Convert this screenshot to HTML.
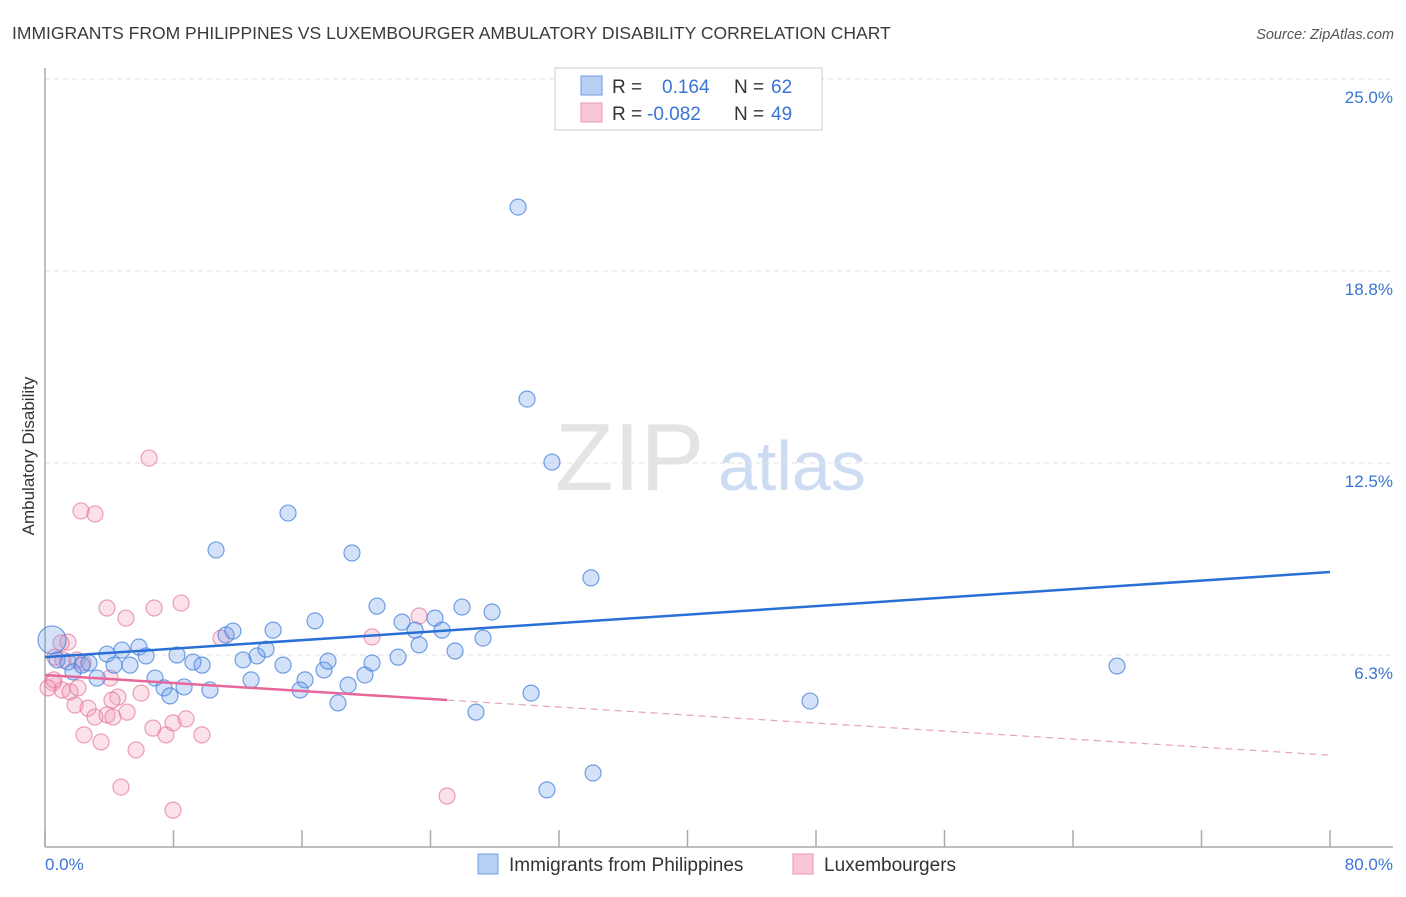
<!DOCTYPE html>
<html><head><meta charset="utf-8"><style>
body{margin:0;background:#fff;font-family:"Liberation Sans",sans-serif;}
svg text{font-family:"Liberation Sans",sans-serif;}
</style></head><body>
<svg id="chart" width="1406" height="892" viewBox="0 0 1406 892" xmlns="http://www.w3.org/2000/svg">
<text x="12" y="39" font-size="17.5" fill="#3a3a3a">IMMIGRANTS FROM PHILIPPINES VS LUXEMBOURGER AMBULATORY DISABILITY CORRELATION CHART</text>
<text x="1394" y="39" font-size="14.5" fill="#555" font-style="italic" text-anchor="end">Source: ZipAtlas.com</text>
<g>
<text x="555" y="490" font-size="96" fill="#d9d9d9" font-family="Liberation Serif, serif" opacity="0.7">ZIP</text>
<text x="718" y="490" font-size="70" fill="#b8cdee" opacity="0.7">atlas</text>
</g>
<g id="grid"></g>
<g id="axes"></g>
<g id="pts"></g>
<g id="trend"></g>
<text transform="translate(34,456) rotate(-90)" font-size="17" fill="#333" text-anchor="middle">Ambulatory Disability</text>
<text x="45" y="870" font-size="17" fill="#3a74d4">0.0%</text>
<text x="1393" y="870" font-size="17" fill="#3a74d4" text-anchor="end">80.0%</text>
<g>
<rect x="555" y="68" width="267" height="62" fill="#fff" stroke="#ccc"/>
<rect x="581" y="76" width="21" height="19" fill="#b7d0f3" stroke="#6f9be0"/>
<rect x="581" y="103" width="21" height="19" fill="#f9c6d5" stroke="#ea98b1"/>
<text x="612" y="93" font-size="19" fill="#333">R =</text>
<text x="662" y="93" font-size="19" fill="#3a74d4">0.164</text>
<text x="734" y="93" font-size="19" fill="#333">N =</text>
<text x="771" y="93" font-size="19" fill="#3a74d4">62</text>
<text x="612" y="120" font-size="19" fill="#333">R =</text>
<text x="647" y="120" font-size="19" fill="#3a74d4">-0.082</text>
<text x="734" y="120" font-size="19" fill="#333">N =</text>
<text x="771" y="120" font-size="19" fill="#3a74d4">49</text>
</g>
<g>
<rect x="478" y="854" width="20" height="20" fill="#b7d0f3" stroke="#6f9be0"/>
<text x="509" y="871" font-size="19" fill="#333">Immigrants from Philippines</text>
<rect x="793" y="854" width="20" height="20" fill="#f9c6d5" stroke="#ea98b1"/>
<text x="824" y="871" font-size="19" fill="#333">Luxembourgers</text>
</g>
</svg>
<script>
const blueX=[0.44,0.75,1.43,1.74,2.30,2.74,3.24,3.86,4.30,4.79,5.29,5.85,6.29,6.85,7.41,7.78,8.22,8.66,9.21,9.78,10.27,10.65,11.27,11.70,12.33,12.83,13.20,13.76,14.20,14.82,15.13,15.88,16.19,16.81,17.37,17.62,18.24,18.87,19.11,19.92,20.36,20.67,21.98,22.23,23.04,23.29,24.28,24.72,25.53,25.96,26.83,27.27,27.83,29.45,30.01,30.26,31.25,31.56,33.99,34.12,47.63,66.74];
const blueY=[6.74,6.09,6.02,5.70,5.92,5.99,5.50,6.28,5.92,6.41,5.92,6.51,6.22,5.50,5.18,4.92,6.25,5.21,6.02,5.92,5.11,9.67,6.90,7.03,6.09,5.44,6.22,6.44,7.06,5.92,10.87,5.11,5.44,7.36,5.76,6.05,4.69,5.27,9.57,5.60,5.99,7.84,6.18,7.32,7.06,6.58,7.45,7.06,6.38,7.81,4.39,6.80,7.65,20.83,14.58,5.01,1.86,12.53,8.76,2.41,4.75,5.89];
const pinkX=[3.86,5.04,6.79,8.47,10.96,1.43,1.00,0.50,1.06,1.56,2.05,1.87,2.68,3.11,3.86,4.23,4.54,4.17,5.11,4.05,5.98,2.43,3.49,5.67,4.73,7.97,6.72,7.53,7.97,8.78,9.77,0.62,1.12,1.99,2.37,2.24,3.11,6.48,20.36,23.29,25.03,0.56,0.19];
const pinkY=[7.78,7.45,7.78,7.94,6.80,6.67,6.64,5.34,5.11,5.05,5.18,4.62,4.52,4.23,4.30,4.23,4.88,4.78,4.39,5.50,5.01,3.65,3.42,3.16,1.95,1.20,3.87,3.65,4.04,4.17,3.65,6.18,6.09,6.09,5.99,10.94,10.84,12.66,6.84,7.52,1.66,5.44,5.18];
const yTicks=[6.25,12.5,18.75,25];
const yTickLabels=["6.3%","12.5%","18.8%","25.0%"];
const xTicks=[0,8,16,24,32,40,48,56,64,72,80];
const blueTrend=[6.18,8.95];
const pinkTrend=[5.60,2.99];
const pinkSolidEnd=25.03;
const NS="http://www.w3.org/2000/svg";
const X0=45,X1=1330,Y0=847,YS=30.72;
function sx(v){return X0+(X1-X0)*v/80;}
function sy(v){return Y0-v*YS;}
function mk(tag,attrs,parent){const e=document.createElementNS(NS,tag);for(const k in attrs)e.setAttribute(k,attrs[k]);parent.appendChild(e);return e;}
const grid=document.getElementById('grid'),axes=document.getElementById('axes'),pts=document.getElementById('pts'),trend=document.getElementById('trend');
yTicks.forEach((t,i)=>{
 const l=mk('line',{x1:X0,x2:1393,y1:sy(t),y2:sy(t),stroke:'#e2e2e2','stroke-dasharray':'5,4'},grid);
 
 
 const tx=mk('text',{x:1393,y:sy(t)+24,'font-size':17,fill:'#3a74d4','text-anchor':'end'},grid);
 tx.textContent=yTickLabels[i];
 
 
});
const ya=mk('line',{x1:X0,x2:X0,y1:68,y2:Y0,stroke:'#aaa','stroke-width':1.5},axes);


const xa=mk('line',{x1:X0,x2:1393,y1:Y0,y2:Y0,stroke:'#aaa','stroke-width':1.5},axes);


xTicks.forEach(t=>{
 const l=mk('line',{x1:sx(t),x2:sx(t),y1:Y0,y2:Y0-17,stroke:'#aaa','stroke-width':1.5},axes);
 
 
});
pinkX.forEach((x,i)=>{
 const c=mk('circle',{cx:sx(x),cy:sy(pinkY[i]),r:8,fill:'rgba(242,150,178,0.28)',stroke:'rgba(230,120,155,0.7)','stroke-width':1.2},pts);
 
 
});
blueX.forEach((x,i)=>{
 const c=mk('circle',{cx:sx(x),cy:sy(blueY[i]),r:i===0?14:8,fill:'rgba(110,160,235,0.3)',stroke:'rgba(70,130,220,0.75)','stroke-width':1.2},pts);
 
 
});
const bt=mk('line',{x1:sx(0),y1:sy(blueTrend[0]),x2:sx(80),y2:sy(blueTrend[1]),stroke:'#2a6fd6','stroke-width':2.5},trend);


const pe=pinkTrend[0]+(pinkTrend[1]-pinkTrend[0])*pinkSolidEnd/80;
const pt=mk('line',{x1:sx(0),y1:sy(pinkTrend[0]),x2:sx(pinkSolidEnd),y2:sy(pe),stroke:'#e8679a','stroke-width':2.5},trend);


const pd=mk('line',{x1:sx(pinkSolidEnd),y1:sy(pe),x2:sx(80),y2:sy(pinkTrend[1]),stroke:'#e8a0bb','stroke-width':1.2,'stroke-dasharray':'7,5'},trend);


</script>
</body></html>
